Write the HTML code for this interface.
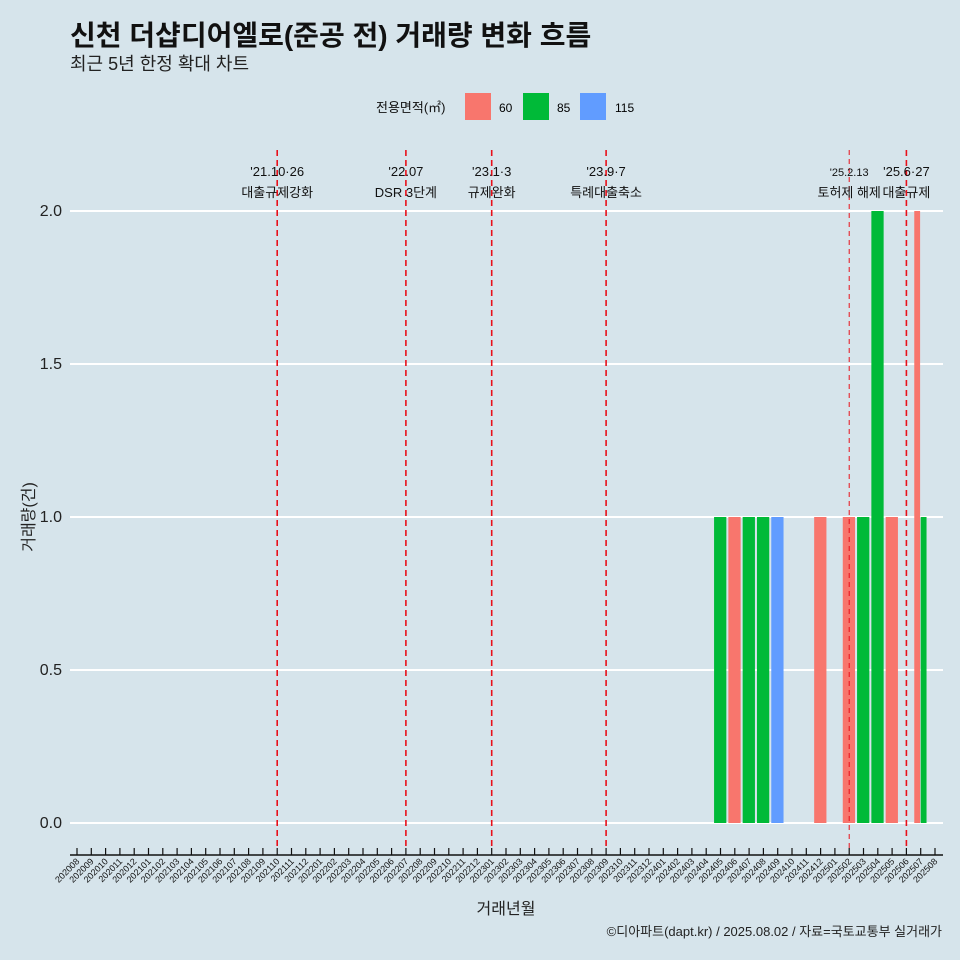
<!DOCTYPE html>
<html><head><meta charset="utf-8"><style>
body{margin:0;background:#d6e4eb;}
svg{display:block;font-family:"Liberation Sans","Noto Sans CJK KR",sans-serif;}
</style></head><body>
<svg width="960" height="960">
<rect width="960" height="960" fill="#d6e4eb"/>
<text x="70" y="45" font-size="28" font-weight="bold" fill="#111">신천 더샵디어엘로(준공 전) 거래량 변화 흐름</text>
<text x="70" y="70" font-size="18" fill="#222">최근 5년 한정 확대 차트</text>
<g>
<text x="376" y="112" font-size="13" fill="#111">전용면적(㎡)</text>
<rect x="465" y="93" width="26" height="27" fill="#f8766d"/>
<text x="499" y="112" font-size="12">60</text>
<rect x="523" y="93" width="26" height="27" fill="#00ba38"/>
<text x="557" y="112" font-size="12">85</text>
<rect x="580" y="93" width="26" height="27" fill="#619cff"/>
<text x="615" y="112" font-size="12">115</text>
</g>
<g id="plot"></g>
<text x="506" y="914" font-size="16" text-anchor="middle" fill="#222">거래년월</text>
<text transform="translate(34,517) rotate(-90)" font-size="16" text-anchor="middle" fill="#222">거래량(건)</text>
<text x="942" y="936" font-size="13" text-anchor="end" fill="#222">©디아파트(dapt.kr) / 2025.08.02 / 자료=국토교통부 실거래가</text>
</svg>
<script>
const months=[];for(let y=2020,m=8;months.length<61;){months.push(y+String(m).padStart(2,'0'));m++;if(m>12){m=1;y++;}}
const yTicks=[0,0.5,1,1.5,2];
const bar60=[["202406",1],["202412",1],["202502",1],["202505",1],["202507",2]];
const bar85=[["202405",1],["202407",1],["202408",1],["202503",1],["202504",2],["202507",1]];
const bar115=[["202409",1]];
const events=[["202110","'21.10·26","대출규제강화"],["202207","'22.07","DSR 3단계"],["202301","'23.1·3","규제완화"],["202309","'23.9·7","특례대출축소"],["202502","'25.2.13","토허제 해제"],["202506","'25.6·27","대출규제"]];
const NS="http://www.w3.org/2000/svg",g=document.getElementById('plot');
const step=14.3,x0=77;
const xs=m=>x0+months.indexOf(m)*step;
const ys=v=>823-v*306;
function el(t,a){const e=document.createElementNS(NS,t);for(const k in a)e.setAttribute(k,a[k]);g.appendChild(e);return e;}
yTicks.forEach(v=>{
const l=el('line',{x1:70,x2:943,y1:ys(v),y2:ys(v),stroke:'#fff','stroke-width':2});


const t=el('text',{x:62,y:ys(v)+5,'font-size':16,'text-anchor':'end',fill:'#222'});t.textContent=v.toFixed(1);


});
const bw=0.9*step;
const groups={};
[[bar60,'#f8766d','60'],[bar85,'#00ba38','85'],[bar115,'#619cff','115']].forEach(([arr,c,n])=>arr.forEach(([m,v])=>{(groups[m]=groups[m]||[]).push([v,c,n]);}));
Object.keys(groups).forEach(m=>{const arr=groups[m],w=bw/arr.length;arr.forEach(([v,c,n],i)=>{
const r=el('rect',{x:xs(m)-bw/2+i*w,y:ys(v),width:w-0.6,height:ys(0)-ys(v),fill:c});


});});
events.forEach(([m,a,b],i)=>{
const x=xs(m),thin=m==='202502';
const l=el('line',{x1:x,x2:x,y1:150,y2:850,stroke:'#e8101a','stroke-width':thin?1:1.6,'stroke-dasharray':thin?'5,4':'6,4'});


const t1=el('text',{x:x,y:176,'font-size':thin?11:13,'text-anchor':'middle',fill:'#111'});t1.textContent=a;


const t2=el('text',{x:x,y:197,'font-size':13,'text-anchor':'middle',fill:'#111'});t2.textContent=b;


});
const ax=el('line',{x1:70,x2:943,y1:855,y2:855,stroke:'#111','stroke-width':1.5});


months.forEach(m=>{const x=xs(m);
const tk=el('line',{x1:x,x2:x,y1:848,y2:855,stroke:'#111','stroke-width':1.2});


const t=el('text',{x:x+3,y:862,'font-size':9,'text-anchor':'end',fill:'#111',transform:`rotate(-45 ${x+3} 862)`});t.textContent=m;


});
</script>
</body></html>
